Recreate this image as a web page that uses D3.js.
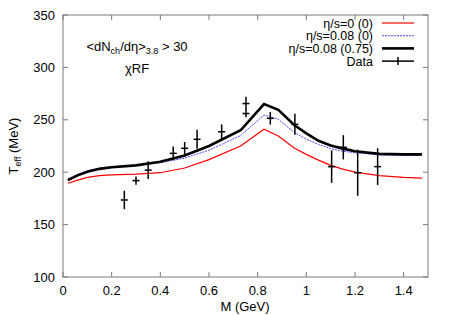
<!DOCTYPE html>
<html>
<head>
<meta charset="utf-8">
<script src="https://cdn.jsdelivr.net/npm/d3@7"></script>
<style>
  body { margin: 0; background: #fff; }
  text { font-family: "Liberation Sans", Arial, sans-serif; fill: #000; }
</style>
</head>
<body>
<svg id="chart" width="450" height="315"></svg>
<script>
// curve abscissae (GeV)
var massGrid = [0.02, 0.06, 0.1, 0.15, 0.2, 0.3, 0.4, 0.5, 0.6, 0.73, 0.826, 0.885, 0.95, 1.0, 1.05, 1.1, 1.15, 1.2, 1.3, 1.4, 1.475];
// eta/s = 0 (0)
var idealT = [189.5, 192.5, 195, 196.8, 197.5, 198.2, 199.5, 204, 212, 225, 241, 234.5, 223, 217, 211.5, 206.5, 203, 200, 196.8, 195, 194.3];
// eta/s = 0.08 (0)
var viscT = [193.5, 198, 201.5, 204, 205.3, 206.8, 209, 213.5, 221, 235, 254.5, 250.5, 238, 231.5, 226.5, 222.5, 220, 218.5, 216.5, 216, 216];
// eta/s = 0.08 (0.75)
var viscBulkT = [192.5, 197, 200.5, 203.2, 204.8, 206.5, 210, 216, 225, 240, 265, 259.5, 245, 237, 230, 225.5, 222.5, 220, 217.5, 217, 217];

// measured points
var dataM   = [0.252, 0.30, 0.35, 0.453, 0.50, 0.551, 0.652, 0.752, 0.752, 0.852, 0.953, 1.104, 1.152, 1.211, 1.293];
var dataT   = [173.5, 192, 202, 218, 222.8, 231.4, 238.6, 265.5, 256, 251.4, 245.7, 205.3, 223.8, 199.5, 205.3];
var dataErr = [8.8, 4, 8.5, 6.5, 6, 9, 7, 6.5, 3.5, 6, 10, 15.5, 11.6, 22, 17.5];

var xTicks = [0, 0.2, 0.4, 0.6, 0.8, 1, 1.2, 1.4];
var yTicks = [100, 150, 200, 250, 300, 350];

var svg = d3.select("#chart");
var mLeft = 63, mRight = 428, mTop = 15, mBottom = 277;
var fs = 13;

var x = d3.scaleLinear().domain([0, 1.5]).range([mLeft, mRight]);
var y = d3.scaleLinear().domain([100, 350]).range([mBottom, mTop]);

// frame
svg.append("rect")
    .attr("x", mLeft).attr("y", mTop)
    .attr("width", mRight - mLeft).attr("height", mBottom - mTop)
    .attr("fill", "none").attr("stroke", "#7a7a7a").attr("stroke-width", 1);

// ticks, mirrored on all sides
var tickLen = 5;
var ticks = svg.append("g").attr("stroke", "#7a7a7a").attr("stroke-width", 1);
xTicks.forEach(function (t) {
    ticks.append("line").attr("x1", x(t)).attr("x2", x(t)).attr("y1", mBottom).attr("y2", mBottom - tickLen);
    ticks.append("line").attr("x1", x(t)).attr("x2", x(t)).attr("y1", mTop).attr("y2", mTop + tickLen);
});
yTicks.forEach(function (t) {
    ticks.append("line").attr("x1", mLeft).attr("x2", mLeft + tickLen).attr("y1", y(t)).attr("y2", y(t));
    ticks.append("line").attr("x1", mRight).attr("x2", mRight - tickLen).attr("y1", y(t)).attr("y2", y(t));
});

svg.append("g").selectAll("text")
    .data(xTicks).enter().append("text")
    .attr("x", function (d) { return x(d); })
    .attr("y", mBottom + 18)
    .attr("text-anchor", "middle")
    .attr("font-size", fs)
    .text(function (d) { return d; });

svg.append("g").selectAll("text")
    .data(yTicks).enter().append("text")
    .attr("x", mLeft - 8)
    .attr("y", function (d) { return y(d) + 4.5; })
    .attr("text-anchor", "end")
    .attr("font-size", fs)
    .text(function (d) { return d; });

// axis titles
svg.append("text")
    .attr("x", 245).attr("y", 311)
    .attr("text-anchor", "middle").attr("font-size", fs)
    .text("M (GeV)");

var yl = svg.append("text")
    .attr("transform", "translate(18," + 146 + ") rotate(-90)")
    .attr("text-anchor", "middle").attr("font-size", fs);
yl.append("tspan").text("T");
yl.append("tspan").attr("font-size", 9).attr("dy", 3).text("eff");
yl.append("tspan").attr("dy", -3).text(" (MeV)");

// annotation
var ann = svg.append("text")
    .attr("x", 137).attr("y", 51)
    .attr("text-anchor", "middle").attr("font-size", fs);
ann.append("tspan").text("<dN");
ann.append("tspan").attr("font-size", 9).attr("dy", 3).text("ch");
ann.append("tspan").attr("dy", -3).text("/dη>");
ann.append("tspan").attr("font-size", 9).attr("dy", 3).text("3.8");
ann.append("tspan").attr("dy", -3).text(" > 30");

svg.append("text")
    .attr("x", 137).attr("y", 73)
    .attr("text-anchor", "middle").attr("font-size", fs)
    .text("χRF");

// curves
var line = d3.line()
    .x(function (d) { return x(d[0]); })
    .y(function (d) { return y(d[1]); });

var plot = svg.append("g");
var series = [
    { name: "η/s=0 (0)", vals: idealT, color: "#ff0000", width: 1.2, dash: null },
    { name: "η/s=0.08 (0)", vals: viscT, color: "#4a4aff", width: 1, dash: "2,1" },
    { name: "η/s=0.08 (0.75)", vals: viscBulkT, color: "#000", width: 2.6, dash: null }
];

series.forEach(function (s) {
    plot.append("path")
        .datum(d3.zip(massGrid, s.vals))
        .attr("fill", "none")
        .attr("stroke", s.color)
        .attr("stroke-width", s.width)
        .attr("stroke-dasharray", s.dash)
        .attr("d", line);
});

// data with error bars
var pts = plot.append("g").attr("stroke", "#000").attr("stroke-width", 1.5);
dataM.forEach(function (m, i) {
    var cx = x(m), cy = y(dataT[i]);
    pts.append("line").attr("x1", cx).attr("x2", cx)
        .attr("y1", y(dataT[i] - dataErr[i])).attr("y2", y(dataT[i] + dataErr[i]));
    pts.append("line").attr("x1", cx - 3.5).attr("x2", cx + 3.5).attr("y1", cy).attr("y2", cy);
});

// legend
var lg = svg.append("g");
var lgText = 373, lgX1 = 382, lgX2 = 414, lgFs = 12.5;
series.forEach(function (s, i) {
    var ly = 23 + i * 12.7;
    lg.append("text").attr("x", lgText).attr("y", ly + 4.5)
        .attr("text-anchor", "end").attr("font-size", lgFs).text(s.name);
    lg.append("line").attr("x1", lgX1).attr("x2", lgX2).attr("y1", ly).attr("y2", ly)
        .attr("stroke", s.color).attr("stroke-width", s.width)
        .attr("stroke-dasharray", s.dash);
});
var dy = 23 + 3 * 12.7;
lg.append("text").attr("x", lgText).attr("y", dy + 4.5)
    .attr("text-anchor", "end").attr("font-size", lgFs).text("Data");
lg.append("line").attr("x1", lgX1).attr("x2", lgX2).attr("y1", dy).attr("y2", dy)
    .attr("stroke", "#000").attr("stroke-width", 1.5);
lg.append("line").attr("x1", (lgX1 + lgX2) / 2).attr("x2", (lgX1 + lgX2) / 2)
    .attr("y1", dy - 4).attr("y2", dy + 4)
    .attr("stroke", "#000").attr("stroke-width", 1.5);
</script>
</body>
</html>
